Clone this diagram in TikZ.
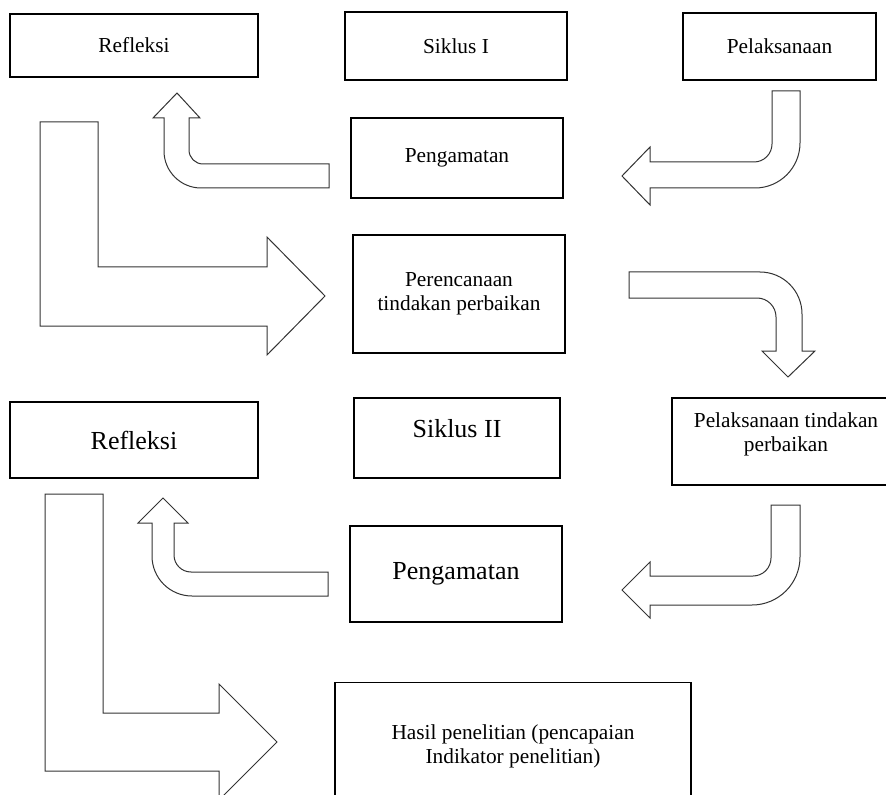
\documentclass[tikz,border=0pt]{standalone}
\usepackage{fontspec}
\setmainfont{Liberation Serif}
\usetikzlibrary{shapes,arrows}

\begin{document}
\begin{tikzpicture}[x=0.75pt, y=-0.75pt,
    box/.style={draw, line width=0.9pt, align=center, inner sep=0pt, font=\fontsize{16}{18}\selectfont},
    bigbox/.style={box, font=\fontsize{19.5}{23}\selectfont},
    blockarrow/.style={draw=black!80, line width=0.75pt, line join=miter}]

    \path[use as bounding box] (0,0) rectangle (886,795);
    \clip (0,0) rectangle (886,795);

    % siklus I
    \node[box, minimum width=186pt, minimum height=47.25pt] (refl1) at (134,45.5) {Refleksi};
    \node[box, minimum width=166.5pt, minimum height=51pt] (sik1) at (456,46) {Siklus I};
    \node[box, minimum width=144.75pt, minimum height=50.25pt] (pel1) at (779.5,46.5) {Pelaksanaan};
    \node[box, minimum width=159pt, minimum height=60pt] (peng1) at (457,158) {Pengamatan};
    \node[box, minimum width=159pt, minimum height=88.5pt] (renc) at (459,294) {Perencanaan\\tindakan perbaikan};

    % siklus II
    \node[bigbox, minimum width=186pt, minimum height=57pt] (refl2) at (134,440) {Refleksi};
    \node[bigbox, minimum width=154.5pt, minimum height=60pt, text depth=14pt] (sik2) at (457,438) {Siklus II};
    \node[box, minimum width=171pt, minimum height=65.25pt, text depth=14.5pt] (pel2) at (786,441.5) {Pelaksanaan tindakan\\perbaikan};
    \node[bigbox, minimum width=159pt, minimum height=72pt] (peng2) at (456,574) {Pengamatan};

    % hasil
    \node[box, minimum width=267pt, inner ysep=31.7pt, anchor=north] (hasil) at (513,682) {Hasil penelitian (pencapaian\\Indikator penelitian)};

    % arrows siklus I
    \draw[blockarrow] (329,164) -- (203,164) .. controls (195.3,164) and (189,157.7) .. (189,150)
        -- (189,118) -- (200,118) -- (177,93) -- (153,118) -- (164,118) -- (164,151)
        .. controls (164,171.4) and (180.6,188) .. (201,188) -- (329,188) -- cycle;
    \draw[blockarrow] (772,91) -- (800,91) -- (800,143) .. controls (800,167.8) and (779.8,188) .. (755,188)
        -- (650,188) -- (650,205) -- (622,176) -- (650,147) -- (650,162) -- (754,162)
        .. controls (763.9,162) and (772,153.9) .. (772,144) -- cycle;
    \draw[blockarrow] (40,122) -- (98,122) -- (98,267) -- (267,267) -- (267,237) -- (325,296)
        -- (267,355) -- (267,326) -- (40,326) -- cycle;
    \draw[blockarrow] (629,272) -- (760,272) .. controls (783.2,272) and (802,290.8) .. (802,314)
        -- (802,351) -- (815,351) -- (788,377) -- (762,351) -- (776,351) -- (776,317)
        .. controls (776,306.5) and (767.5,298) .. (757,298) -- (629,298) -- cycle;

    % arrows siklus II
    \draw[blockarrow] (771,505) -- (800,505) -- (800,557) .. controls (800,583.5) and (778.5,605) .. (752,605)
        -- (650,605) -- (650,618) -- (622,590) -- (650,562) -- (650,576) -- (753,576)
        .. controls (762.9,576) and (771,567.9) .. (771,558) -- cycle;
    \draw[blockarrow] (328,572) -- (191,572) .. controls (181.6,572) and (174,564.4) .. (174,555)
        -- (174,523) -- (188,523) -- (163,498) -- (138,523) -- (152,523) -- (152,556)
        .. controls (152,578.1) and (169.9,596) .. (192,596) -- (328,596) -- cycle;
    \draw[blockarrow] (45,494) -- (103,494) -- (103,713) -- (219,713) -- (219,684) -- (277,742)
        -- (219,800) -- (219,771) -- (45,771) -- cycle;

\end{tikzpicture}
\end{document}
